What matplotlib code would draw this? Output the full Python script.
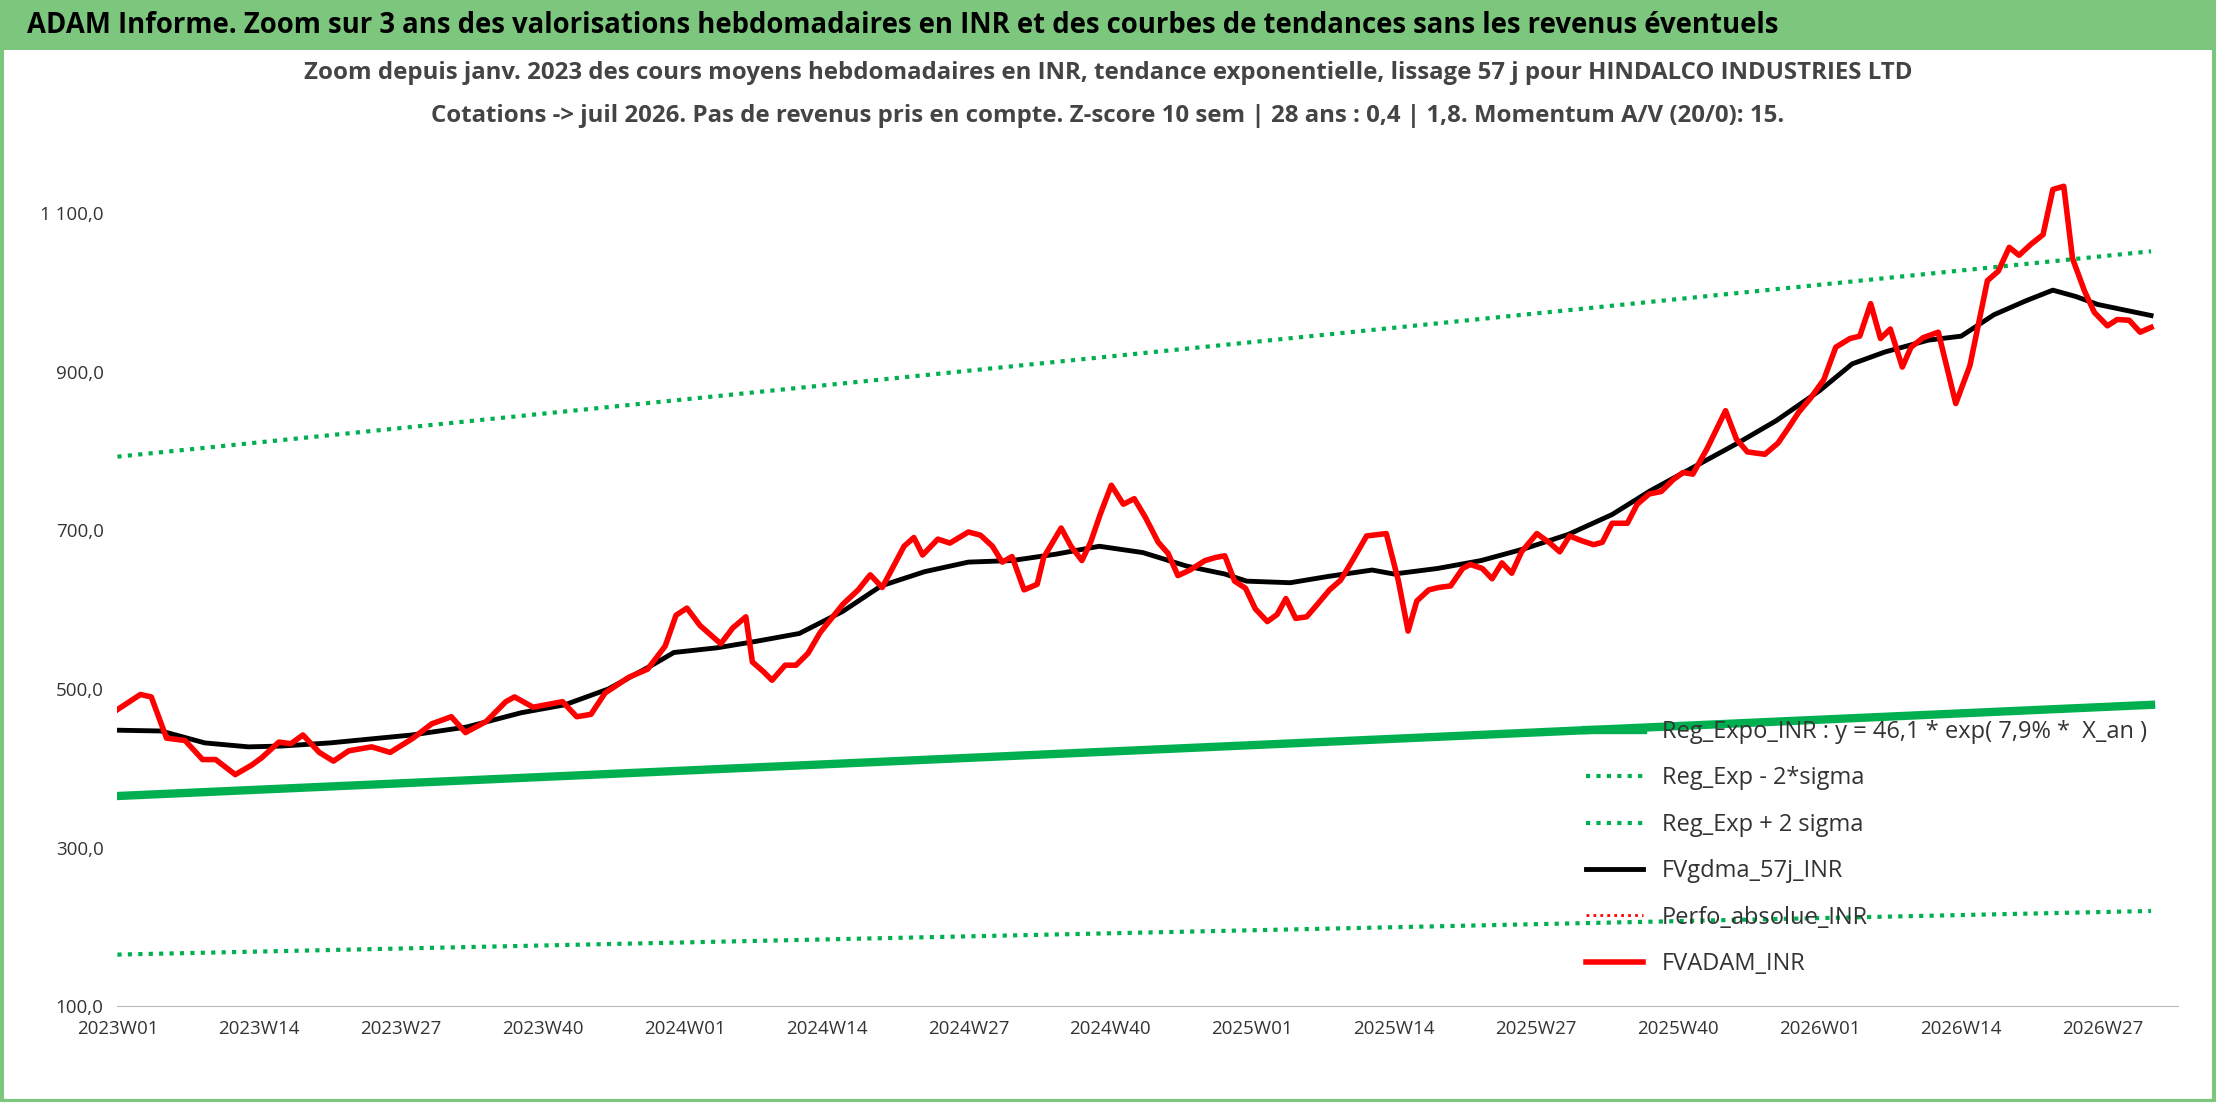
import matplotlib.pyplot as plt
from matplotlib.patches import Rectangle

plt.rcParams['font.family'] = ['Open Sans', 'DejaVu Sans']

# weekly index (0 = 2023W01) and values
red_weeks = [0, 2.1, 3.1, 4.5, 6.2, 7.8, 9.0, 10.8, 12.3, 13.2, 14.8, 15.9, 17.0, 18.5, 19.8, 21.2,
             23.3, 25.0, 27.1, 28.8, 30.6, 31.9, 33.8, 35.6, 36.4, 38.1, 40.8, 42.1, 43.4, 44.7, 46.9,
             48.6, 50.2, 51.2, 52.2, 53.4, 55.3, 56.4, 57.6, 58.2, 59.2, 60.0, 61.2, 62.2, 63.3, 64.4,
             66.5, 67.9, 69.0, 70.1, 72.1, 73.0, 73.8, 75.2, 76.3, 78.0, 79.1, 80.2, 81.1, 82.0, 83.1,
             84.3, 84.9, 86.5, 87.4, 88.4, 89.2, 90.1, 91.1, 92.2, 93.2, 94.2, 95.4, 96.3, 97.2, 98.3,
             99.7, 100.7, 101.5, 102.4, 103.4, 104.3, 105.4, 106.3, 107.1, 108.0, 109.0, 110.0, 111.1,
             112.1, 113.2, 114.5, 116.3, 117.4, 118.3, 119.1, 120.2, 121.1, 122.2, 123.3, 124.0, 125.1,
             126.0, 126.9, 127.8, 128.7, 130.1, 131.3, 132.2, 133.1, 134.2, 135.3, 136.1, 137.0, 138.4,
             139.3, 140.4, 141.5, 142.6, 143.5, 144.4, 145.7, 147.4, 148.4, 149.4, 151.0, 152.2, 153.1,
             154.1, 155.2, 156.4, 157.5, 158.8, 159.7, 160.7, 161.6, 162.5, 163.6, 164.4, 165.5, 166.9,
             168.5, 169.8, 171.4, 172.4, 173.4, 174.3, 175.4, 176.5, 177.4, 178.4, 179.2, 180.3, 181.2,
             182.4, 183.3, 184.4, 185.4, 186.4]
red_vals = [474, 493, 490, 438, 435, 411, 411, 392, 404, 413, 433, 431, 442, 420, 409, 422, 427, 420,
            438, 456, 465, 445, 459, 484, 490, 477, 484, 465, 468, 495, 515, 525, 554, 593, 602, 580,
            557, 577, 591, 534, 522, 511, 530, 530, 545, 571, 607, 625, 644, 628, 680, 691, 669, 689,
            684, 698, 694, 680, 660, 667, 625, 632, 666, 703, 680, 662, 685, 721, 757, 733, 740, 717,
            685, 671, 643, 650, 662, 666, 668, 636, 627, 601, 585, 594, 614, 589, 591, 607, 625, 637,
            662, 693, 696, 637, 573, 611, 625, 628, 630, 652, 657, 652, 639, 659, 646, 673, 696, 684,
            673, 693, 687, 682, 685, 709, 709, 733, 746, 749, 764, 773, 771, 803, 851, 815, 799, 796,
            810, 828, 849, 867, 890, 931, 942, 945, 986, 942, 954, 906, 931, 943, 950, 860, 908, 1015,
            1027, 1057, 1047, 1061, 1073, 1130, 1134, 1043, 1002, 975, 958, 966, 965, 950, 956]

avg_weeks = [0, 4, 8, 12, 15, 19.5, 27, 32, 37, 41, 45, 49, 51, 55, 58.5, 62.5, 66.5, 70, 74, 78, 82,
             86, 90, 94, 98, 101.5, 103.5, 107.5, 111, 115, 117, 121, 125, 129, 133, 137, 140.5, 144.5,
             148.5, 152, 156, 159, 162, 166, 169, 172, 175, 177.4, 179.5, 181.5, 186.4]
avg_vals = [448, 447, 432, 427, 428, 432, 442, 452, 470, 480, 500, 530, 546, 552, 560, 570, 598, 630,
            648, 660, 662, 670, 680, 672, 655, 645, 636, 634, 642, 650, 645, 652, 662, 677, 695, 720,
            750, 780, 810, 838, 876, 910, 925, 940, 945, 972, 990, 1003, 995, 985, 971]

trend_weeks = [0, 186.4]
reg_vals = [365, 480]
upper_vals = [793, 1052]
lower_vals = [165, 220]

tick_weeks = [0, 13, 26, 39, 52, 65, 78, 91, 104, 117, 130, 143, 156, 169, 182]
tick_labels = ['2023W01', '2023W14', '2023W27', '2023W40', '2024W01', '2024W14', '2024W27', '2024W40',
               '2025W01', '2025W14', '2025W27', '2025W40', '2026W01', '2026W14', '2026W27']
y_ticks = [100, 300, 500, 700, 900, 1100]

fig = plt.figure(figsize=(22.16, 11.02), dpi=100)
fig.patches.append(Rectangle((0.001, 0.001), 0.998, 0.998, transform=fig.transFigure,
                             fill=False, edgecolor='#7dc67e', linewidth=3))
fig.patches.append(Rectangle((0, 0.955), 1, 0.045, transform=fig.transFigure,
                             facecolor='#7dc67e', edgecolor='none'))
fig.text(0.012, 0.977, 'ADAM Informe. Zoom sur 3 ans des valorisations hebdomadaires en INR et des courbes de tendances sans les revenus éventuels',
         fontsize=19.8, fontweight='bold', va='center', ha='left')
fig.text(0.5, 0.934, 'Zoom depuis janv. 2023 des cours moyens hebdomadaires en INR, tendance exponentielle, lissage 57 j pour HINDALCO INDUSTRIES LTD',
         fontsize=17.3, fontweight='bold', color='#444444', ha='center', va='center')
fig.text(0.5, 0.895, 'Cotations -> juil 2026. Pas de revenus pris en compte. Z-score 10 sem | 28 ans : 0,4 | 1,8. Momentum A/V (20/0): 15.',
         fontsize=17.3, fontweight='bold', color='#444444', ha='center', va='center')

ax = fig.add_axes([0.053, 0.087, 0.93, 0.79])
ax.plot(trend_weeks, reg_vals, color='#00b050', lw=6, label='Reg_Expo_INR : y = 46,1 * exp( 7,9% *  X_an )')
ax.plot(trend_weeks, lower_vals, color='#00b050', lw=3, ls=(0, (1, 1.5)), label='Reg_Exp - 2*sigma')
ax.plot(trend_weeks, upper_vals, color='#00b050', lw=3, ls=(0, (1, 1.5)), label='Reg_Exp + 2 sigma')
ax.plot(avg_weeks, avg_vals, color='black', lw=3.5, label='FVgdma_57j_INR')
ax.plot([], [], color='red', lw=2, ls=(0, (1, 1.5)), label='Perfo_absolue_INR')
ax.plot(red_weeks, red_vals, color='#ff0000', lw=4, label='FVADAM_INR')

ax.set_xlim(0, 188.9)
ax.set_ylim(100, 1198)
ax.set_xticks(tick_weeks)
ax.set_xticklabels(tick_labels, fontsize=13.5, color='#333333')
ax.set_yticks(y_ticks)
ax.set_yticklabels([f'{v:,.1f}'.replace(',', ' ').replace('.', ',') for v in y_ticks],
                   fontsize=13.5, color='#333333')
ax.tick_params(length=0, pad=10)
for s in ['top', 'right', 'left']:
    ax.spines[s].set_visible(False)
ax.spines['bottom'].set_color('#bbbbbb')

ax.legend(loc='lower right', bbox_to_anchor=(0.995, 0.01), frameon=False, fontsize=17,
          handlelength=2.4, labelspacing=0.95, labelcolor='#333333')

fig.savefig('out.png', dpi=100)
